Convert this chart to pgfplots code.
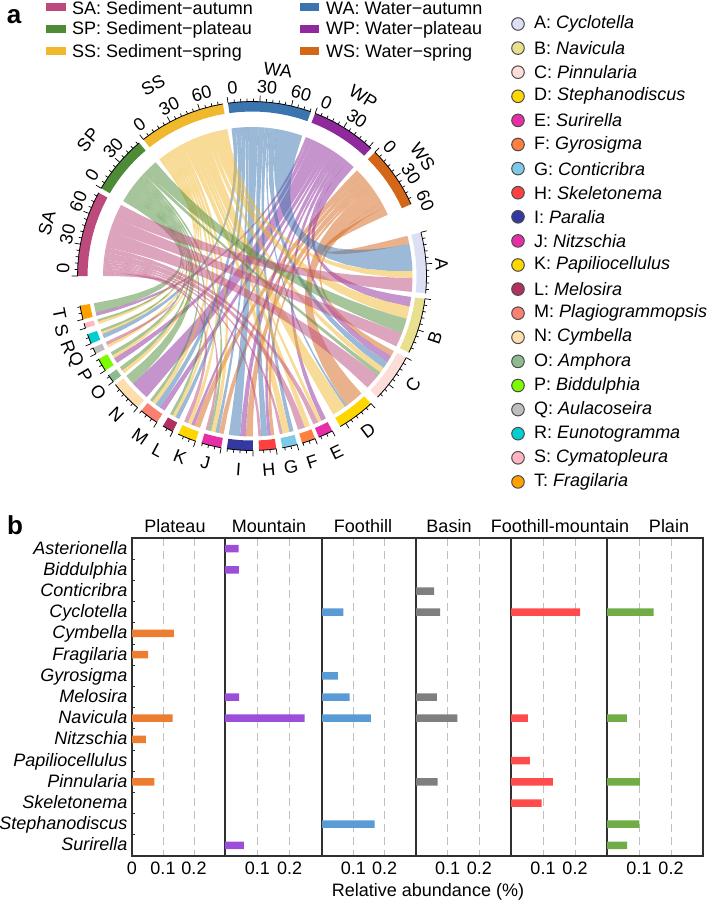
\documentclass[border=0pt]{standalone}
\usepackage{fontspec}
\setmainfont{Liberation Sans}
\usepackage{pgfplots}
\pgfplotsset{compat=1.18}

% ring colours
\definecolor{colSA}{HTML}{BC4A7C}\definecolor{colSP}{HTML}{4E8B37}\definecolor{colSS}{HTML}{F0B82D}
\definecolor{colWA}{HTML}{3A75B0}\definecolor{colWP}{HTML}{8E2A9B}\definecolor{colWS}{HTML}{D4661A}
\definecolor{colA}{HTML}{DDE0F5}\definecolor{colB}{HTML}{E8E08F}\definecolor{colC}{HTML}{FCDDD8}
\definecolor{colD}{HTML}{FFD700}\definecolor{colE}{HTML}{E62EA5}\definecolor{colF}{HTML}{FF7F3F}
\definecolor{colG}{HTML}{7EC8E8}\definecolor{colH}{HTML}{FF4040}\definecolor{colI}{HTML}{3339A0}
\definecolor{colJ}{HTML}{E62EA5}\definecolor{colK}{HTML}{FFD700}\definecolor{colL}{HTML}{B03060}
\definecolor{colM}{HTML}{FA8072}\definecolor{colN}{HTML}{FFDEAD}\definecolor{colO}{HTML}{8FBC8F}
\definecolor{colP}{HTML}{7CFC00}\definecolor{colQ}{HTML}{BEBEBE}\definecolor{colR}{HTML}{00CED1}
\definecolor{colS}{HTML}{FFB6C1}\definecolor{colT}{HTML}{FFA000}
% bars
\definecolor{barO}{HTML}{ED7D31}\definecolor{barP}{HTML}{9B4FD8}\definecolor{barB}{HTML}{5B9BD5}
\definecolor{barG}{HTML}{7F7F7F}\definecolor{barR}{HTML}{FF4B4B}\definecolor{barV}{HTML}{70AD47}
\definecolor{frame}{HTML}{303030}

\newcommand\bigfont{\fontsize{18}{20}\selectfont}

% ----- chord geometry, all in reference pixels -----
\def\cx{252}\def\cy{276}
\def\rSrc{149}\def\rSp{160.5}\def\rIn{164.5}\def\rOut{174.5}

% sectors: name, start angle, end angle (clockwise, degrees)
\newcommand\setsec[3]{%
  \expandafter\gdef\csname st#1\endcsname{#2}%
  \expandafter\gdef\csname en#1\endcsname{#3}%
  \expandafter\gdef\csname cur#1\endcsname{#2}%
  \expandafter\gdef\csname sum#1\endcsname{0}}
\setsec{SA}{180}{151.5}\setsec{SP}{149.8}{130.3}\setsec{SS}{128.5}{99.6}
\setsec{WA}{97.9}{70.3}\setsec{WP}{68.8}{47}\setsec{WS}{45.2}{24.3}
\setsec{A}{14.5}{-5.7}\setsec{B}{-7.5}{-26}\setsec{C}{-27.9}{-44}\setsec{D}{-47}{-59.6}
\setsec{E}{-62.6}{-67.5}\setsec{F}{-68.8}{-73.3}\setsec{G}{-75}{-80}\setsec{H}{-82}{-87.7}
\setsec{I}{-89.7}{-98.3}\setsec{J}{-100.2}{-106.8}\setsec{K}{-108.9}{-115}\setsec{L}{-117}{-120.7}
\setsec{M}{-123}{-129.4}\setsec{N}{-131}{-141.5}\setsec{O}{-142.7}{-145.4}\setsec{P}{-147.2}{-151.6}
\setsec{Q}{-153.5}{-155.7}\setsec{R}{-157.2}{-160.5}\setsec{S}{-162.6}{-164.3}\setsec{T}{-165.6}{-170.2}

% link widths in degrees; species run T to A inside each row
\def\rowWS{K/2.4,J/1.8,I/2.5,H/1.2,D/6.8,C/2,A/3}
\def\rowWP{T/1.2,P/2,N/6.5,M/2,K/1.2,I/2,H/1.2,E/1.8,C/2.5,B/3.5}
\def\rowWA{R/1.6,M/1.9,L/1.5,J/1.2,I/4,H/2.3,G/1.5,D/0.8,C/2.5,A/9.7}
\def\rowSS{S/1,R/0.9,Q/1.1,P/1.2,O/1.3,M/1.5,L/1.2,K/1.5,J/1.6,G/2.5,F/2,E/1.3,D/5,C/2,B/4.5,A/2.5}
\def\rowSP{T/3.4,S/0.7,R/0.8,P/1.2,O/1.4,N/3.5,M/1,L/1,J/1,C/1.5,B/5.5}
\def\rowSA{Q/1.1,K/1.5,J/1,H/1,G/1,F/2.5,E/1.8,C/5.5,B/5,A/5}

% row and column sums, so each link set fills its sector
\foreach \src in {WS,WP,WA,SS,SP,SA}{%
  \edef\row{\csname row\src\endcsname}%
  \foreach \sp/\v in \row {%
    \pgfmathparse{\csname sum\src\endcsname+\v}\expandafter\xdef\csname sum\src\endcsname{\pgfmathresult}%
    \pgfmathparse{\csname sum\sp\endcsname+\v}\expandafter\xdef\csname sum\sp\endcsname{\pgfmathresult}%
  }%
}

\newcommand\addpolar[2]{% angle, radius
  \pgfmathsetmacro\px{\cx+#2*cos(#1)}\pgfmathsetmacro\py{\cy-#2*sin(#1)}%
  \xdef\plist{\plist(\px,\py)}}
\newcommand\arcpts[3]{% from, to, radius
  \foreach \t in {0,0.125,0.25,0.375,0.5,0.625,0.75,0.875,1}{%
    \pgfmathsetmacro\aa{#1+(#2-(#1))*\t}\addpolar{\aa}{#3}}}
\newcommand\bezpts[4]{% angle, radius, angle, radius; control point at the centre
  \foreach \t in {0.08,0.16,0.24,0.32,0.4,0.48,0.56,0.64,0.72,0.8,0.88,0.94}{%
    \pgfmathsetmacro\px{\cx+(1-\t)*(1-\t)*#2*cos(#1)+\t*\t*#4*cos(#3)}%
    \pgfmathsetmacro\py{\cy-(1-\t)*(1-\t)*#2*sin(#1)-\t*\t*#4*sin(#3)}%
    \xdef\plist{\plist(\px,\py)}}}

\newcommand\ribbon[2]{% source, species; uses \v
  \edef\aone{\csname cur#1\endcsname}\edef\bone{\csname cur#2\endcsname}%
  \pgfmathsetmacro\atwo{\aone-\v*(\csname st#1\endcsname-(\csname en#1\endcsname))/\csname sum#1\endcsname}%
  \pgfmathsetmacro\btwo{\bone-\v*(\csname st#2\endcsname-(\csname en#2\endcsname))/\csname sum#2\endcsname}%
  \expandafter\xdef\csname cur#1\endcsname{\atwo}\expandafter\xdef\csname cur#2\endcsname{\btwo}%
  \gdef\plist{}%
  \arcpts{\aone}{\atwo}{\rSrc}\bezpts{\atwo}{\rSrc}{\bone}{\rSp}%
  \arcpts{\bone}{\btwo}{\rSp}\bezpts{\btwo}{\rSp}{\aone}{\rSrc}%
  \edef\temp{\noexpand\addplot[forget plot,draw=none,fill=col#1,fill opacity=0.5] coordinates {\plist} -- cycle;}\temp}

\newcommand\ringsec[1]{%
  \gdef\plist{}%
  \arcpts{\csname st#1\endcsname}{\csname en#1\endcsname}{\rOut}%
  \arcpts{\csname en#1\endcsname}{\csname st#1\endcsname}{\rIn}%
  \edef\temp{\noexpand\addplot[forget plot,draw=none,fill=col#1] coordinates {\plist} -- cycle;}\temp
  \gdef\plist{}%
  \arcpts{\csname st#1\endcsname}{\csname en#1\endcsname}{\rOut}%
  \edef\temp{\noexpand\addplot[forget plot,black,line width=0.8pt] coordinates {\plist};}\temp
  \gdef\plist{}%
  \pgfmathtruncatemacro\nt{floor((\csname st#1\endcsname-(\csname en#1\endcsname))/2.1)}%
  \foreach \k in {0,...,\nt}{%
    \pgfmathsetmacro\aa{\csname st#1\endcsname-\k*2.1}%
    \pgfmathtruncatemacro\mm{mod(\k,5)}%
    \ifnum\mm=0 \def\tl{180.5}\else\def\tl{177.5}\fi
    \addpolar{\aa}{\rOut}\addpolar{\aa}{\tl}\xdef\plist{\plist(nan,nan)}}%
  \edef\temp{\noexpand\addplot[forget plot,black,line width=0.7pt,unbounded coords=jump] coordinates {\plist};}\temp}

\newcommand\ringtext[4]{% angle, radius, rotation, text
  \pgfmathsetmacro\px{\cx+#2*cos(#1)}\pgfmathsetmacro\py{\cy-#2*sin(#1)}%
  \edef\temp{\noexpand\node[rotate=#3,font=\noexpand\bigfont,inner sep=0pt] at (axis cs:\px,\py) {#4};}\temp}
\newcommand\toptext[3]{\pgfmathsetmacro\rr{#1-90}\ringtext{#1}{#2}{\rr}{#3}}
\newcommand\lowtext[3]{\pgfmathsetmacro\rr{#1+90}\ringtext{#1}{#2}{\rr}{#3}}

\newcommand\swatch[4]{% x0, x1, y, colour
  \addplot[forget plot,#4,line width=8pt] coordinates {(#1,#3)(#2,#3)};}
\newcommand\keyrow[4]{% y, letter, name, ignored
  \addplot[forget plot,only marks,mark=*,mark size=6.3pt,
    mark options={draw=black!70,fill=col#2,line width=1pt}] coordinates {(518,#1)};
  \node[anchor=west,font=\bigfont,inner sep=0pt] at (axis cs:534,#1) {#2: \textit{#3}};}

\pgfplotsset{
  panel/.style={
    scale only axis, height=318pt, y dir=reverse,
    xmin=0, xmax=0.3, ymin=-0.5, ymax=14.5,
    ytick=\empty, xtick={0.1,0.2}, xticklabels={0.1,0.2},
    xmajorgrids, grid style={black!25,line width=1pt,dash pattern=on 8pt off 5pt},
    major tick length=0pt, tick style={draw=none},
    axis line style={frame,line width=1.2pt},
    xticklabel style={font=\bigfont,yshift=-2pt},
    axis on top=false, clip=false,
  },
  hb/.style={xbar,bar width=7.5pt,bar shift=0pt,draw=none,fill=#1,forget plot},
}

\begin{document}
\begin{tikzpicture}[x=1pt,y=1pt]
\useasboundingbox (0,0) rectangle (709,902);

\begin{axis}[at={(0,0)},anchor=south west,scale only axis,width=709pt,height=902pt,
  xmin=0,xmax=709,ymin=0,ymax=902,y dir=reverse,hide axis,clip=false]

  % links
  \foreach \src in {WS,WP,WA,SS,SP,SA}{%
    \edef\row{\csname row\src\endcsname}%
    \foreach \sp/\v in \row {\ribbon{\src}{\sp}}%
  }
  % ring
  \foreach \s in {SA,SP,SS,WA,WP,WS,A,B,C,D,E,F,G,H,I,J,K,L,M,N,O,P,Q,R,S,T}{\ringsec{\s}}

  % sector and tick labels
  \toptext{165.5}{212}{SA}\toptext{140.3}{213}{SP}\toptext{117.4}{215}{SS}
  \toptext{82.8}{208}{WA}\toptext{58.2}{211}{WP}\toptext{34.8}{208}{WS}
  \toptext{177.8}{189}{0}\toptext{167.3}{189}{30}\toptext{156.8}{189}{60}
  \toptext{147.8}{189}{0}\toptext{137.3}{189}{30}
  \toptext{126.5}{189}{0}\toptext{116}{189}{30}\toptext{105.5}{189}{60}
  \toptext{95.9}{189}{0}\toptext{85.4}{189}{30}\toptext{74.9}{189}{60}
  \toptext{66.8}{189}{0}\toptext{56.3}{189}{30}
  \toptext{43.2}{189}{0}\toptext{32.7}{189}{30}\toptext{23.5}{189}{60}
  \toptext{3.6}{190}{A}\lowtext{-18.7}{193}{B}\lowtext{-34}{194.4}{C}\lowtext{-53}{193}{D}
  \lowtext{-64.4}{196}{E}\lowtext{-72}{195}{F}\lowtext{-78.5}{195}{G}\lowtext{-85}{194}{H}
  \lowtext{-94}{193.5}{I}\lowtext{-104}{192}{J}\lowtext{-111.7}{195}{K}\lowtext{-118.4}{198}{L}
  \lowtext{-124.8}{196}{M}\lowtext{-134.4}{194}{N}\lowtext{-142.8}{193}{O}\lowtext{-149.3}{194}{P}
  \lowtext{-154.6}{196}{Q}\lowtext{-158.9}{197}{R}\lowtext{-163.9}{198}{S}\lowtext{-169}{196}{T}

  % sample key
  \swatch{46}{66}{7}{colSA}\swatch{46}{66}{29}{colSP}\swatch{46}{66}{51}{colSS}
  \swatch{300}{319}{7}{colWA}\swatch{300}{319}{29}{colWP}\swatch{300}{319}{51}{colWS}
  \node[anchor=west,font=\bigfont,inner sep=0pt] at (axis cs:72,8) {SA: Sediment−autumn};
  \node[anchor=west,font=\bigfont,inner sep=0pt] at (axis cs:72,30) {SP: Sediment−plateau};
  \node[anchor=west,font=\bigfont,inner sep=0pt] at (axis cs:72,53) {SS: Sediment−spring};
  \node[anchor=west,font=\bigfont,inner sep=0pt] at (axis cs:326,8) {WA: Water−autumn};
  \node[anchor=west,font=\bigfont,inner sep=0pt] at (axis cs:326,30) {WP: Water−plateau};
  \node[anchor=west,font=\bigfont,inner sep=0pt] at (axis cs:326,53) {WS: Water−spring};

  % species key
  \keyrow{24}{A}{Cyclotella}{}\keyrow{48.1}{B}{Navicula}{}\keyrow{72.2}{C}{Pinnularia}{}
  \keyrow{96.3}{D}{Stephanodiscus}{}\keyrow{120.4}{E}{Surirella}{}\keyrow{144.5}{F}{Gyrosigma}{}
  \keyrow{168.6}{G}{Conticribra}{}\keyrow{192.7}{H}{Skeletonema}{}\keyrow{216.8}{I}{Paralia}{}
  \keyrow{240.9}{J}{Nitzschia}{}\keyrow{265}{K}{Papiliocellulus}{}\keyrow{289.1}{L}{Melosira}{}
  \keyrow{313.2}{M}{Plagiogrammopsis}{}\keyrow{337.3}{N}{Cymbella}{}\keyrow{361.4}{O}{Amphora}{}
  \keyrow{385.5}{P}{Biddulphia}{}\keyrow{409.6}{Q}{Aulacoseira}{}\keyrow{433.7}{R}{Eunotogramma}{}
  \keyrow{457.8}{S}{Cymatopleura}{}\keyrow{481.9}{T}{Fragilaria}{}

  % panel letters and panel b headings
  \node[font=\fontsize{26}{28}\selectfont\bfseries,inner sep=0pt] at (axis cs:14,17) {a};
  \node[font=\fontsize{26}{28}\selectfont\bfseries,inner sep=0pt] at (axis cs:15,525) {b};
  \node[font=\bigfont,inner sep=0pt] at (axis cs:175,526) {Plateau};
  \node[font=\bigfont,inner sep=0pt] at (axis cs:269,526) {Mountain};
  \node[font=\bigfont,inner sep=0pt] at (axis cs:363,526) {Foothill};
  \node[font=\bigfont,inner sep=0pt] at (axis cs:449,526) {Basin};
  \node[font=\bigfont,inner sep=0pt] at (axis cs:560,526) {Foothill-mountain};
  \node[font=\bigfont,inner sep=0pt] at (axis cs:669,526) {Plain};
  \node[font=\bigfont,inner sep=0pt] at (axis cs:428,891.5) {Relative abundance (\%)};
\end{axis}

% panel b, y = 902 - 856
\begin{axis}[panel,at={(132pt,46pt)},anchor=south west,width=93pt,
  xtick={0,0.1,0.2},xticklabels={0,0.1,0.2},
  ytick={0,...,14},
  yticklabels={Asterionella,Biddulphia,Conticribra,Cyclotella,Cymbella,Fragilaria,Gyrosigma,Melosira,Navicula,Nitzschia,Papiliocellulus,Pinnularia,Skeletonema,Stephanodiscus,Surirella},
  yticklabel style={font=\bigfont\itshape,anchor=east,xshift=-1pt,yshift=-1pt,text height=13pt,text depth=4pt},
  minor ytick={0.5,1.5,...,13.5},minor tick length=3pt,
  minor tick style={draw=frame,line width=1pt},
  ytick pos=left]
  \addplot[hb=barO] coordinates {(0.135,4)(0.052,5)(0.131,8)(0.045,9)(0.072,11)};
\end{axis}
\begin{axis}[panel,at={(225pt,46pt)},anchor=south west,width=97pt]
  \addplot[hb=barP] coordinates {(0.042,0)(0.043,1)(0.044,7)(0.246,8)(0.058,14)};
\end{axis}
\begin{axis}[panel,at={(322pt,46pt)},anchor=south west,width=94pt]
  \addplot[hb=barB] coordinates {(0.068,3)(0.051,6)(0.088,7)(0.156,8)(0.168,13)};
\end{axis}
\begin{axis}[panel,at={(416pt,46pt)},anchor=south west,width=95pt]
  \addplot[hb=barG] coordinates {(0.057,2)(0.076,3)(0.066,7)(0.131,8)(0.068,11)};
\end{axis}
\begin{axis}[panel,at={(511pt,46pt)},anchor=south west,width=96pt]
  \addplot[hb=barR] coordinates {(0.216,3)(0.053,8)(0.059,10)(0.131,11)(0.096,12)};
\end{axis}
\begin{axis}[panel,at={(607pt,46pt)},anchor=south west,width=96pt]
  \addplot[hb=barV] coordinates {(0.146,3)(0.062,8)(0.103,11)(0.101,13)(0.063,14)};
\end{axis}
\end{tikzpicture}
\end{document}
